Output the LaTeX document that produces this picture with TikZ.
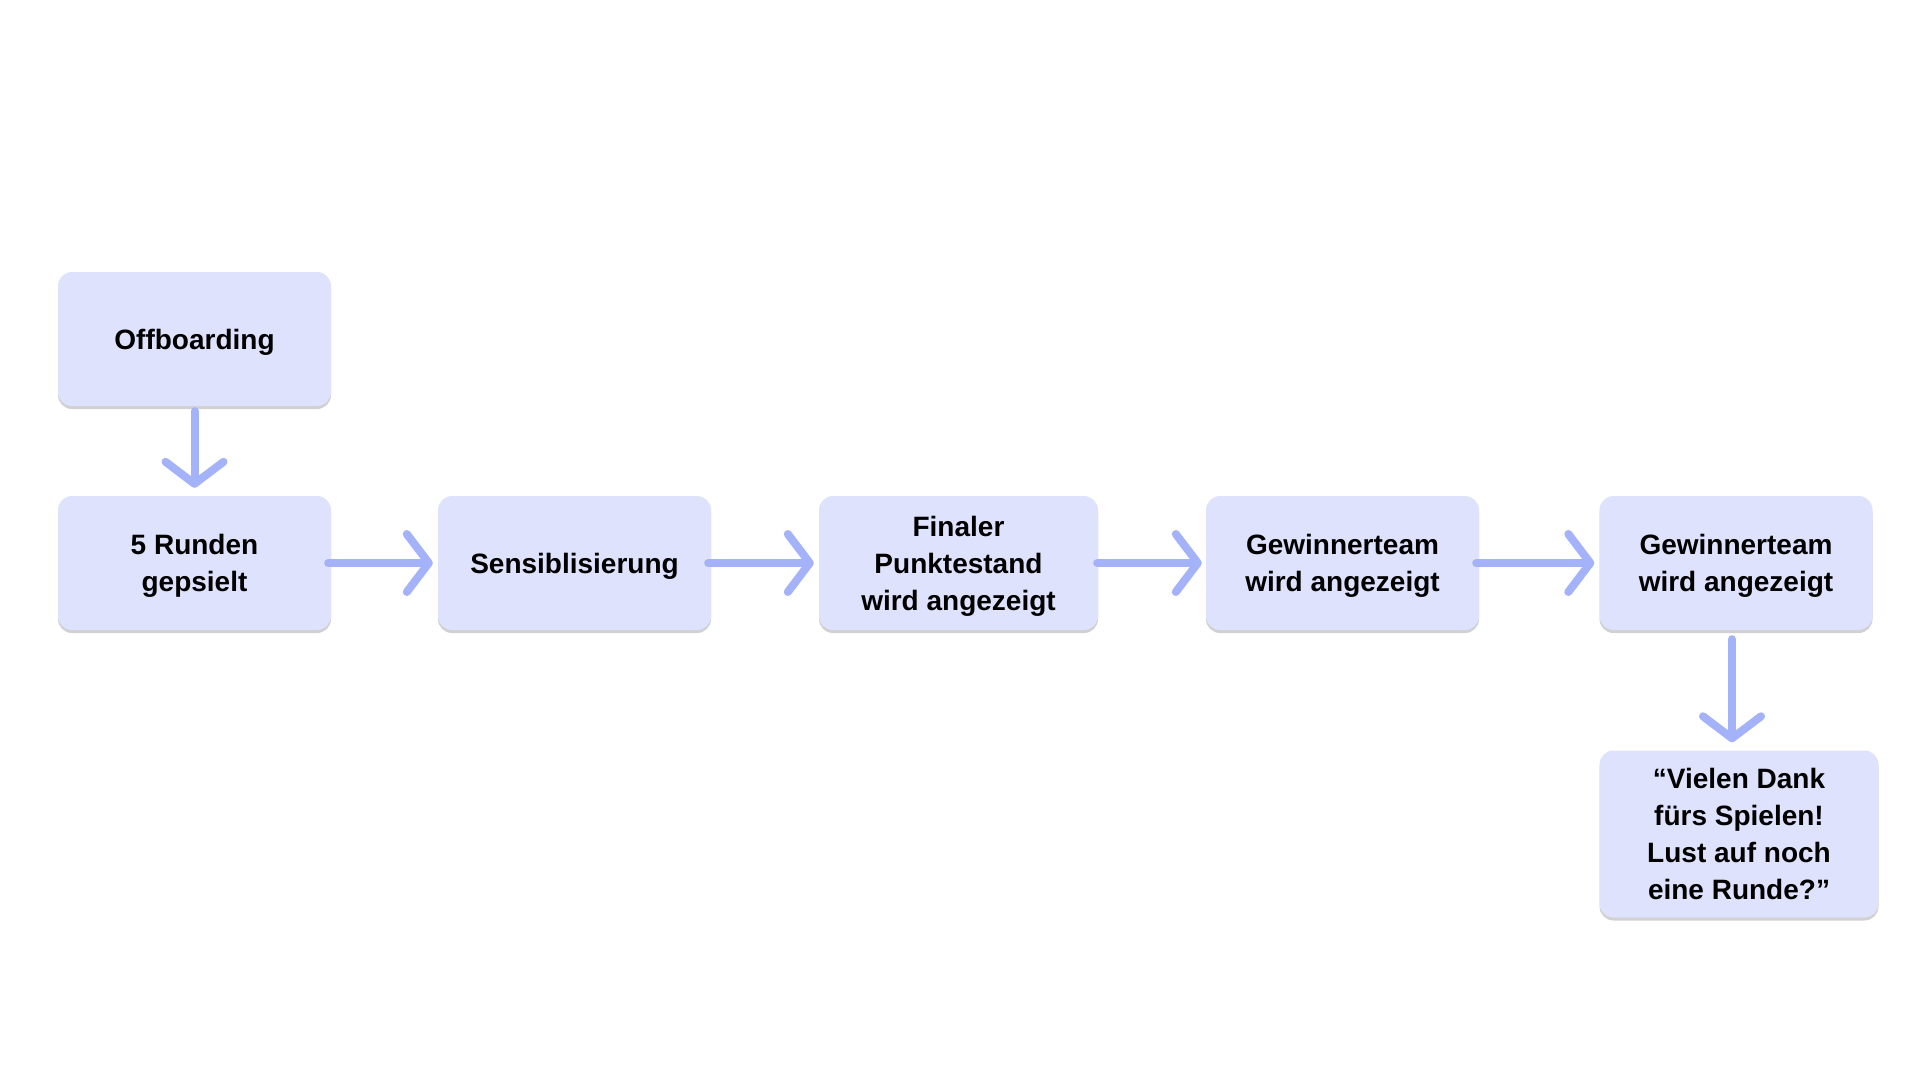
\documentclass[tikz,border=0pt]{standalone}
\usepackage{fontspec}
\setmainfont{Liberation Sans}
\usetikzlibrary{arrows.meta,shadows}

\definecolor{boxfill}{HTML}{DEE2FC}
\definecolor{arrowblue}{HTML}{A4B2FA}

\tikzset{
  stepbox/.style={rectangle, rounded corners=14pt, fill=boxfill,
    minimum width=273pt, minimum height=134pt, inner sep=0pt, align=center,
    text depth=0pt, font=\fontsize{28}{37}\selectfont\bfseries,
    drop shadow={shadow xshift=0pt, shadow yshift=-3pt, opacity=0.18, fill=black}},
  flow/.style={arrowblue, line width=8pt, line cap=round,
    -{Straight Barb[length=22pt,width=58pt,round]}}
}

\begin{document}
\begin{tikzpicture}[x=1pt,y=-1pt]
    \useasboundingbox[fill=white] (0,0) rectangle (1920,1080);
    % boxes
    \node[stepbox] (off) at (194.5,339) {Offboarding};
    \node[stepbox] (runden) at (194.5,563) {5 Runden\\gepsielt};
    \node[stepbox] (sens) at (574.5,563) {Sensiblisierung};
    \node[stepbox, minimum width=279pt] (final) at (958.5,563) {Finaler\\Punktestand\\wird angezeigt};
    \node[stepbox] (gew1) at (1342.5,563) {Gewinnerteam\\wird angezeigt};
    \node[stepbox] (gew2) at (1736,563) {Gewinnerteam\\wird angezeigt};
    \node[stepbox, minimum width=279pt, minimum height=167pt] (dank) at (1739,834)
      {“Vielen Dank\\fürs Spielen!\\Lust auf noch\\eine Runde?”};
    % arrows
    \draw[flow] ([yshift=-5pt]off.south) -- ([yshift=8pt]runden.north);
    \draw[flow] ([xshift=-3pt]runden.east) -- ([xshift=-5pt]sens.west);
    \draw[flow] ([xshift=-3pt]sens.east) -- ([xshift=-5pt]final.west);
    \draw[flow] ([xshift=-1pt]final.east) -- ([xshift=-4pt]gew1.west);
    \draw[flow] ([xshift=-3pt]gew1.east) -- ([xshift=-5pt]gew2.west);
    \draw[flow] ([xshift=-4pt,yshift=-9pt]gew2.south) -- ([xshift=-4pt,yshift=8pt]gew2.south |- dank.north);
\end{tikzpicture}
\end{document}
